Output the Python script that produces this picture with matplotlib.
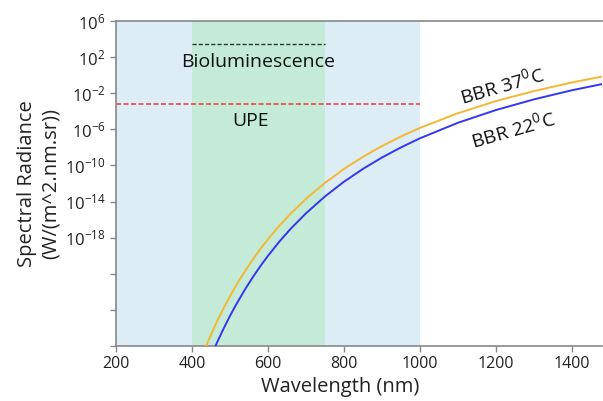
import matplotlib
matplotlib.use("Agg")
import matplotlib.pyplot as plt
import numpy as np

plt.rcParams['font.family'] = ['Open Sans', 'DejaVu Sans']
plt.rcParams['mathtext.fontset'] = 'custom'
plt.rcParams['mathtext.rm'] = 'Open Sans'
plt.rcParams['mathtext.it'] = 'Open Sans'
plt.rcParams['mathtext.default'] = 'regular'

# Data (wavelength in nm, log10 of spectral radiance)
wl_37 = [437, 440, 450, 460, 470, 480, 490, 500, 510, 520, 540, 560, 580, 600, 630, 660,
         700, 750, 800, 850, 900, 950, 1000, 1100, 1200, 1300, 1400, 1480]
log_37 = [-30.01, -29.71, -28.74, -27.81, -26.93, -26.08, -25.27, -24.49, -23.74, -23.02,
          -21.67, -20.42, -19.25, -18.17, -16.67, -15.32, -13.70, -11.93, -10.39, -9.04,
          -7.85, -6.79, -5.84, -4.21, -2.87, -1.76, -0.81, -0.15]
wl_22 = [462, 470, 480, 490, 500, 510, 520, 540, 560, 580, 600, 630, 660, 700, 750, 800,
         850, 900, 950, 1000, 1100, 1200, 1300, 1400, 1480]
log_22 = [-29.98, -29.24, -28.35, -27.49, -26.67, -25.88, -25.13, -23.70, -22.38, -21.15,
          -20.01, -18.43, -17.00, -15.30, -13.43, -11.80, -10.38, -9.12, -8.00, -6.99,
          -5.27, -3.86, -2.68, -1.67, -0.98]

visible_range = [400, 750]
uv_ir_range = [200, 1000]
biolum_level = 10 ** 3.4
upe_level = 10 ** -3.2

ytick_exps = [6, 2, -2, -6, -10, -14, -18, -22, -26, -30]
ytick_labels = ['$10^{6}$', '$10^{2}$', '$10^{-2}$', '$10^{-6}$', '$10^{-10}$',
                '$10^{-14}$', '$10^{-18}$', '', '', '']
xticks = [200, 400, 600, 800, 1000, 1200, 1400]

fig = plt.figure(figsize=(6.03, 4.01), dpi=100)
ax = fig.add_axes([116/603, 1 - 346/401, (602 - 116)/603, (346 - 21)/401])

ax.set_yscale('log')
ax.set_xlim(200, 1479)
ax.set_ylim(1e-30, 1e6)

ax.axvspan(uv_ir_range[0], uv_ir_range[1], color='#dcedf5', lw=0, zorder=0)
ax.axvspan(visible_range[0], visible_range[1], color='#c3ebd8', lw=0, zorder=0.5)

ax.plot(wl_37, 10 ** np.array(log_37), color='#f5b733', lw=1.4, zorder=3)
ax.plot(wl_22, 10 ** np.array(log_22), color='#3535f5', lw=1.4, zorder=3)

ax.hlines(biolum_level, visible_range[0], visible_range[1], colors='#333333',
          linestyles=(0, (3, 1.5)), lw=1.0, zorder=2)
ax.hlines(upe_level, uv_ir_range[0], uv_ir_range[1], colors='#f04545',
          linestyles=(0, (3, 1.5)), lw=1.2, zorder=2)

ax.text(575, 10 ** 1.5, 'Bioluminescence', ha='center', va='center', fontsize=14, color='#111111')
ax.text(553, 10 ** -5.1, 'UPE', ha='center', va='center', fontsize=14, color='#111111')
ax.text(1215, 10 ** -1.1, 'BBR 37$^{0}$C', ha='center', va='center', fontsize=14,
        rotation=16, color='#111111')
ax.text(1246, 10 ** -6.0, 'BBR 22$^{0}$C', ha='center', va='center', fontsize=14,
        rotation=16, color='#111111')

ax.set_yticks([10.0 ** e for e in ytick_exps])
ax.set_yticklabels(ytick_labels)
ax.minorticks_off()
ax.set_xticks(xticks)
ax.set_xticklabels([str(x) for x in xticks])

for s in ['top', 'left', 'bottom']:
    ax.spines[s].set_color('#888888')
    ax.spines[s].set_linewidth(1.2)
ax.spines['right'].set_visible(False)
ax.tick_params(axis='both', colors='#888888', labelcolor='#222222', length=4, width=1)
ax.tick_params(axis='x', labelsize=11.5)
ax.tick_params(axis='y', labelsize=12)

ax.set_xlabel('Wavelength (nm)', fontsize=14.5, color='#222222')
ax.xaxis.set_label_coords((340 - 116) / 486, -(377 - 346) / 325)
ax.set_ylabel('Spectral Radiance\n(W/(m^2.nm.sr))', fontsize=14.5, color='#222222', labelpad=3,
              linespacing=1.25)

fig.savefig('out.png', dpi=100)
